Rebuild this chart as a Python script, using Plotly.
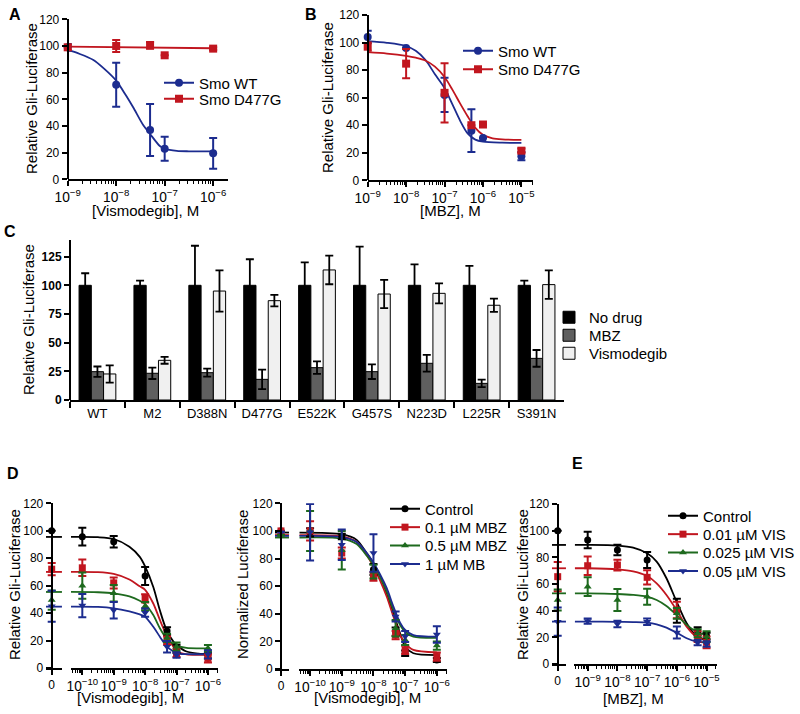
import plotly.graph_objects as go

W, H = 800, 714
FONT = "Liberation Sans, Arial, Helvetica, sans-serif"
BLUE = "#1c2c8f"
RED = "#c1161f"
GREEN = "#1e6a1e"
BLACK = "#000000"

# ---------------- data ----------------
# A: vismodegib dose response, Smo WT vs D477G
a_dose = [1e-9, 1e-8, 5e-8, 1e-7, 1e-6]
a_wt = [99, 71, 37, 23, 19.5]
a_wt_err = [2.5, 16.5, 19.5, 9, 11.5]
a_d477g = [99, 100, 100.5, 93, 98]
a_d477g_err = [2, 4.5, 2.5, 0, 1]
a_wt_fit_logx = [-9, -8.75, -8.47, -8.25, -8, -7.8, -7.65, -7.44, -7.3, -7.1, -7, -6.75, -6.5, -6]
a_wt_fit = [97, 94, 89.5, 83, 74, 63, 54, 40.5, 34, 25, 23, 21.3, 21, 21]
a_d477g_fit_logx = [-9, -6]
a_d477g_fit = [99.5, 98.3]

# B: MBZ dose response
b_dose = [1e-9, 1e-8, 1e-7, 5e-7, 1e-6, 1e-5]
b_wt = [104, 96, 62, 36, 30.7, 17.5]
b_wt_err = [4.5, 0, 12.5, 15.5, 0, 3]
b_d477g = [97, 84.7, 63.5, 40, 40.5, 21.5]
b_d477g_err = [3, 10.6, 21.5, 0, 0, 1.5]
b_wt_fit_logx = [-9, -8.5, -8, -7.75, -7.5, -7.25, -7, -6.81, -6.59, -6.4, -6.2, -6, -5.5, -5]
b_wt_fit = [101, 99.8, 97.5, 94, 87.5, 77, 67, 56, 43, 34, 29.5, 28, 27.3, 27.2]
b_d477g_fit_logx = [-9, -8.5, -8, -7.75, -7.5, -7.25, -7, -6.8, -6.6, -6.4, -6.2, -6, -5.75, -5.5, -5]
b_d477g_fit = [93, 92, 90.3, 89, 87, 82.5, 75, 66, 56, 46.5, 38, 33, 30.5, 29.7, 29.3]

# C: Smo mutants
c_mutants = ["WT", "M2", "D388N", "D477G", "E522K", "G457S", "N223D", "L225R", "S391N"]
c_nodrug = [100, 100, 100, 100, 100, 100, 100, 100, 100]
c_nodrug_err = [10.5, 4, 34.5, 22.7, 20, 33.7, 18.3, 17, 4]
c_mbz = [24.7, 23.3, 23.8, 18, 28.2, 24.7, 32, 14.5, 36.3]
c_mbz_err = [4.5, 5, 3.5, 8.5, 5.5, 6.4, 7.3, 3.2, 7.3]
c_vis = [22.7, 34.6, 95, 86.6, 113.4, 92.4, 93, 82.6, 100.6]
c_vis_err = [7.5, 3, 18, 5, 12.5, 12.3, 8.7, 5.7, 12.4]

# D: vismodegib with MBZ (left: relative, middle: normalized)
d_names = ["Control", "0.1 µM MBZ", "0.5 µM MBZ", "1 µM MB"]
d_dose = [1e-10, 1e-9, 1e-8, 5e-8, 1e-7, 1e-6]
d_fit_logx = [-10.36, -9.5, -9, -8.5, -8.17, -8, -7.74, -7.53, -7.32, -7.1, -7, -6.68, -6.3, -6]

dl_zero = [100, 72, 49.5, 45]
dl_zero_err = [0, 4.5, 7, 11.3]
dl_vals = [
    [95.7, 92, 67, 27, 14, 9],
    [73, 62, 50.8, 20, 11, 7],
    [60, 54.4, 45, 22, 15.5, 14.3],
    [45.5, 42, 40.3, 15.5, 9.5, 10],
]
dl_errs = [
    [6.5, 4.2, 6.5, 2.7, 3, 2],
    [6, 4, 3, 3, 3, 3],
    [9.5, 6, 3, 3, 3, 2.5],
    [8.5, 6, 3, 4.2, 2, 3],
]
dl_fits = [
    [95.5, 95.3, 94, 88.4, 81, 74, 59, 42, 27.7, 19.2, 16.8, 12, 10.5, 10.2],
    [70, 69.8, 68.5, 64.5, 59.5, 57, 47, 35, 24, 15.5, 12, 10, 9.6, 9.5],
    [55.4, 55.2, 54.4, 52.2, 49, 46.6, 38.6, 29, 21.6, 17.5, 16.3, 14.6, 14.3, 14.3],
    [44.7, 44.5, 43.5, 41.2, 39, 37.4, 30, 22.8, 16, 12, 10.7, 10.1, 10, 10],
]

dm_zero = [100, 100, 97, 99]
dm_zero_err = [0, 0, 0, 0]
dm_vals = [
    [99, 96, 72, 27, 11.4, 6.5],
    [100, 84, 67, 24.6, 13.8, 9],
    [100, 86, 70.5, 29.5, 21, 17],
    [99, 90, 84, 38, 23.5, 25],
]
dm_errs = [
    [3, 2, 4, 3, 2, 1.5],
    [7, 4, 3, 3, 3, 3],
    [14.5, 14, 5, 6, 3.6, 3],
    [20.5, 11, 13.5, 3.6, 4, 6],
]
dm_fit_logx = [-10.34, -9, -8.53, -8.21, -8, -7.79, -7.58, -7.37, -7.16, -7, -6.74, -6]
dm_fits = [
    [98.8, 97.6, 93.5, 83.8, 76.6, 67, 54.8, 40.3, 25.8, 16.2, 11.4, 10.1],
    [97, 96, 92, 82.6, 74, 64, 52.4, 38, 24.6, 18.6, 13.8, 12],
    [95.2, 94.5, 90.5, 82, 75.4, 66.5, 56, 42.8, 31.9, 27, 23.4, 22.5],
    [96.4, 95.5, 92, 84, 77, 68.5, 58.5, 45.2, 33.6, 28.3, 24.6, 23.4],
]

# E: MBZ with vismodegib
e_names = ["Control", "0.01 µM VIS", "0.025 µM VIS", "0.05 µM VIS"]
e_dose = [1e-9, 1e-8, 1e-7, 1e-6, 5e-6, 1e-5]
e_zero = [100, 65.5, 48, 31.7]
e_zero_err = [0, 11, 7.8, 10.6]
e_vals = [
    [93, 85.5, 78, 40, 24.5, 21],
    [73.7, 74.2, 65, 40.5, 20.5, 16.2],
    [58, 48, 50.5, 38, 23, 20.5],
    [32.2, 30, 31.7, 23.7, 16, 15],
]
e_errs = [
    [6.2, 4, 6, 9, 3, 2.5],
    [7, 4, 5.3, 6.2, 4, 4.4],
    [7, 8.2, 6, 4, 3, 4],
    [2, 2.5, 2.5, 4.5, 2, 2],
]
e_fit_logx = [-9.43, -9, -8, -7.47, -7, -6.68, -6.35, -6.01, -5.67, -5.34, -5]
e_fits = [
    [89.3, 89.3, 88.8, 87.3, 83, 76.8, 64.3, 46.8, 30.5, 21, 18],
    [71.8, 71.8, 71, 69.5, 66, 60.5, 51.8, 40.5, 28, 20.5, 18],
    [53, 53, 52.5, 51.8, 50.5, 48, 43.5, 36.8, 29.3, 24.3, 21.8],
    [31.8, 31.8, 31.6, 31.4, 31, 29.8, 27.3, 23.5, 19.3, 16.8, 16],
]

four_colors = [BLACK, RED, GREEN, BLUE]
four_symbols = ["circle", "square", "triangle-up", "triangle-down"]


def fx(p):
    return p / W


def fy(p):
    return 1 - p / H


fig = go.Figure()

axis_style = dict(showline=True, linecolor="black", linewidth=2, ticks="outside",
                  tickcolor="black", tickwidth=2, ticklen=5, showgrid=False,
                  zeroline=False, automargin=False, tickangle=0,
                  tickfont=dict(family=FONT, size=12, color="black"))

leg_style = dict(xanchor="left", yanchor="middle", bgcolor="rgba(0,0,0,0)", borderwidth=0,
                 font=dict(family=FONT, size=15, color="black"))
n_legends = [0]


def new_legend(x_px, y_px):
    # one legend box per entry so the row spacing can follow the original
    n_legends[0] += 1
    lid = "legend" if n_legends[0] == 1 else f"legend{n_legends[0]}"
    fig.layout[lid] = dict(leg_style, x=fx(x_px), y=fy(y_px))
    return lid


def log_x(name, left, right, rng, anchor):
    fig.layout[name] = dict(axis_style, type="log", domain=[fx(left), fx(right)], range=rng,
                            anchor=anchor, dtick=1, exponentformat="power",
                            tickfont=dict(family=FONT, size=11, color="black"),
                            minor=dict(ticks="outside", ticklen=3, tickwidth=1,
                                       tickcolor="black", dtick="D1"))


def zero_x(name, left, right, axis_px, anchor):
    f = (axis_px - left) / (right - left)
    fig.layout[name] = dict(axis_style, domain=[fx(left), fx(right)], range=[-f, 1 - f],
                            anchor=anchor, tickvals=[0], ticktext=["0"])


def lin_y(name, top, bottom, left, rng, dtick):
    fig.layout[name] = dict(axis_style, domain=[fy(bottom), fy(top)], range=rng,
                            anchor="free", position=fx(left), dtick=dtick, tick0=0)


def points(x, y, err, color, symbol, size, xa, ya):
    fig.add_trace(go.Scatter(
        x=x, y=y, mode="markers", xaxis=xa, yaxis=ya, showlegend=False, cliponaxis=False,
        marker=dict(color=color, symbol=symbol, size=size),
        error_y=dict(type="data", array=err, color=color, thickness=2, width=4)))


def curve(x, y, color, xa, ya):
    fig.add_trace(go.Scatter(
        x=x, y=y, mode="lines", xaxis=xa, yaxis=ya, showlegend=False, cliponaxis=False,
        line=dict(color=color, width=1.8, shape="spline", smoothing=0.8)))


def key(name, color, symbol, size, x_px, y_px, xa, ya):
    fig.add_trace(go.Scatter(
        x=[None], y=[None], mode="lines+markers", name=name, legend=new_legend(x_px, y_px),
        xaxis=xa, yaxis=ya, line=dict(color=color, width=2),
        marker=dict(color=color, symbol=symbol, size=size)))


# ---------------- A ----------------
lin_y("yaxis", 19.3, 179.3, 67.7, [0, 120], 20)
log_x("xaxis", 67.7, 227.7, [-9, -5.7], "y")
curve([10 ** v for v in a_wt_fit_logx], a_wt_fit, BLUE, "x", "y")
curve([10 ** v for v in a_d477g_fit_logx], a_d477g_fit, RED, "x", "y")
points(a_dose, a_wt, a_wt_err, BLUE, "circle", 8, "x", "y")
points(a_dose, a_d477g, a_d477g_err, RED, "square", 8, "x", "y")
key("Smo WT", BLUE, "circle", 8, 159, 83, "x", "y")
key("Smo D477G", RED, "square", 8, 159, 99, "x", "y")

# ---------------- B ----------------
lin_y("yaxis2", 15, 180.3, 367.7, [0, 120], 20)
log_x("xaxis2", 367.7, 533.3, [-9, -4.69], "y2")
curve([10 ** v for v in b_wt_fit_logx], b_wt_fit, BLUE, "x2", "y2")
curve([10 ** v for v in b_d477g_fit_logx], b_d477g_fit, RED, "x2", "y2")
points(b_dose, b_wt, b_wt_err, BLUE, "circle", 8, "x2", "y2")
points(b_dose, b_d477g, b_d477g_err, RED, "square", 8, "x2", "y2")
key("Smo WT", BLUE, "circle", 8, 458, 51, "x2", "y2")
key("Smo D477G", RED, "square", 8, 458, 69.5, "x2", "y2")

# ---------------- C ----------------
fig.layout["xaxis3"] = dict(axis_style, type="category", domain=[fx(70), fx(564)], anchor="y3",
                            tickson="boundaries", ticklen=6,
                            tickfont=dict(family=FONT, size=13, color="black"))
fig.layout["yaxis3"] = dict(axis_style, domain=[fy(400), fy(240)], range=[0, 139.5],
                            anchor="free", position=fx(70), tickvals=[0, 25, 50, 75, 100, 125],
                            tickfont=dict(family=FONT, size=12, color="black", weight="bold"))
for vals, errs, fill, nm, ly in [(c_nodrug, c_nodrug_err, "#000000", "No drug", 317.5),
                                 (c_mbz, c_mbz_err, "#5f5f5f", "MBZ", 335.5),
                                 (c_vis, c_vis_err, "#f0f0f0", "Vismodegib", 353.5)]:
    fig.add_trace(go.Bar(
        x=c_mutants, y=vals, name=nm, legend=new_legend(549, ly), xaxis="x3", yaxis="y3",
        marker=dict(color=fill, line=dict(color="black", width=1)),
        error_y=dict(type="data", array=errs, color="black", thickness=1.8, width=4)))

# ---------------- D left ----------------
lin_y("yaxis4", 503.3, 668, 51.7, [0, 120], 20)
zero_x("xaxis4", 46, 62, 51.7, "y4")
log_x("xaxis5", 71, 218.3, [-10.36, -5.67], "y4")
for i in range(4):
    curve([10 ** v for v in d_fit_logx], dl_fits[i], four_colors[i], "x5", "y4")
    curve([-0.36, 0.64], [dl_fits[i][0]] * 2, four_colors[i], "x4", "y4")
for i in range(4):
    points(d_dose, dl_vals[i], dl_errs[i], four_colors[i], four_symbols[i], 7, "x5", "y4")
    points([0], [dl_zero[i]], [dl_zero_err[i]], four_colors[i], four_symbols[i], 7, "x4", "y4")

# ---------------- D middle ----------------
lin_y("yaxis5", 503.3, 669, 281, [0, 120], 20)
zero_x("xaxis6", 275, 289, 281, "y5")
log_x("xaxis7", 299.3, 447.3, [-10.34, -5.67], "y5")
for i in range(4):
    curve([10 ** v for v in dm_fit_logx], dm_fits[i], four_colors[i], "x7", "y5")
    curve([-0.43, 0.57], [dm_fits[i][0]] * 2, four_colors[i], "x6", "y5")
for i in range(4):
    points(d_dose, dm_vals[i], dm_errs[i], four_colors[i], four_symbols[i], 7, "x7", "y5")
    points([0], [dm_zero[i]], [dm_zero_err[i]], four_colors[i], four_symbols[i], 7, "x6", "y5")
    key(d_names[i], four_colors[i], four_symbols[i], 7, 385, 509 + 18.4 * i, "x7", "y5")

# ---------------- E ----------------
lin_y("yaxis6", 504, 664, 557.7, [0, 120], 20)
zero_x("xaxis8", 552, 566, 557.7, "y6")
log_x("xaxis9", 574.3, 716.7, [-9.45, -4.66], "y6")
for i in range(4):
    curve([10 ** v for v in e_fit_logx], e_fits[i], four_colors[i], "x9", "y6")
    curve([-0.41, 0.59], [e_fits[i][0]] * 2, four_colors[i], "x8", "y6")
for i in range(4):
    points(e_dose, e_vals[i], e_errs[i], four_colors[i], four_symbols[i], 7, "x9", "y6")
    points([0], [e_zero[i]], [e_zero_err[i]], four_colors[i], four_symbols[i], 7, "x8", "y6")
    key(e_names[i], four_colors[i], four_symbols[i], 7, 663, 516 + 18.4 * i, "x9", "y6")

# ---------------- text ----------------
ann = []


def text(s, x, y, size=15, bold=False, angle=0):
    ann.append(dict(text=f"<b>{s}</b>" if bold else s, x=fx(x), y=fy(y), xref="paper", yref="paper",
                    showarrow=False, textangle=angle, xanchor="center", yanchor="middle",
                    font=dict(family=FONT, size=size, color="black")))


text("A", 15, 14, 16, True)
text("B", 311, 14, 16, True)
text("C", 10, 232, 16, True)
text("D", 13, 473, 16, True)
text("E", 577, 463, 16, True)
text("Relative Gli-Luciferase", 32, 99, angle=-90)
text("Relative Gli-Luciferase", 328, 98, angle=-90)
text("Relative Gli-Luciferase", 28, 320, angle=-90)
text("Relative Gli-Luciferase", 14, 585, angle=-90)
text("Normalized Luciferase", 242, 585, angle=-90)
text("Relative Gli-Luciferase", 522, 585, angle=-90)
text("[Vismodegib], M", 145, 210)
text("[MBZ], M", 450, 210)
text("[Vismodegib], M", 130, 697)
text("[Vismodegib], M", 367, 697)
text("[MBZ], M", 633, 698)

fig.update_layout(width=W, height=H, margin=dict(l=0, r=0, t=0, b=0),
                  plot_bgcolor="white", paper_bgcolor="white",
                  barmode="group", bargap=0.33, bargroupgap=0,
                  annotations=ann, font=dict(family=FONT, color="black"))

fig.write_html("out.html", config={"displayModeBar": False},
               post_script="document.body.style.margin='0';")
